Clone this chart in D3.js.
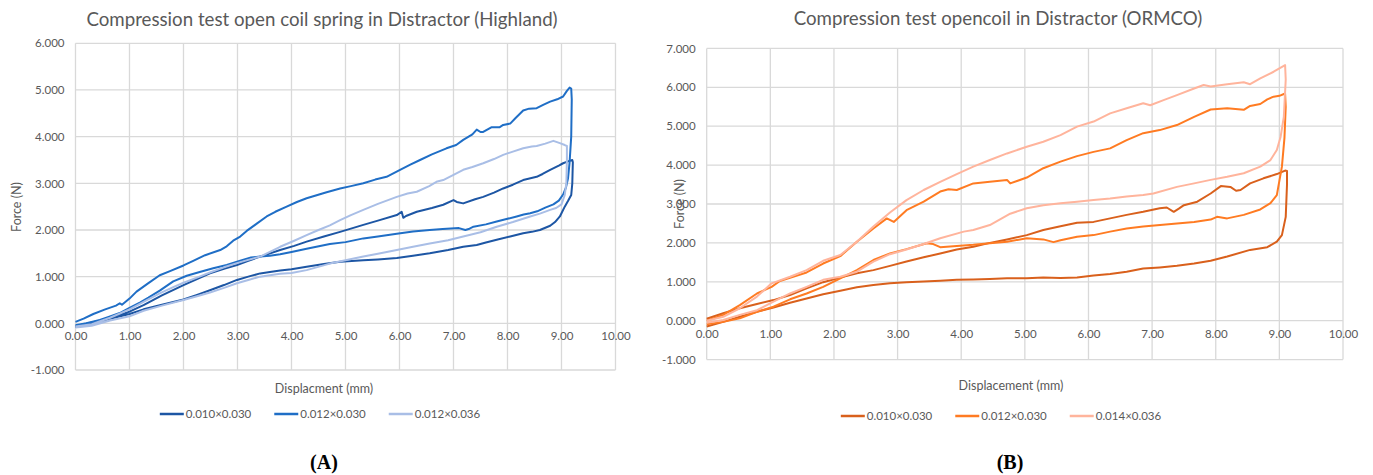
<!DOCTYPE html>
<html>
<head>
<meta charset="utf-8">
<script src="https://cdn.jsdelivr.net/npm/d3@7"></script>
<style>
  html, body { margin: 0; padding: 0; background: #fff; }
  svg { display: block; }
  text { font-family: Lato, "Open Sans", sans-serif; fill: #595959; }
</style>
</head>
<body>
<svg id="fig" width="1373" height="475"></svg>
<script>
// ---------- shared axis definitions ----------
const xTickValues = [0, 1, 2, 3, 4, 5, 6, 7, 8, 9, 10];
const xTickLabels = ["0.00", "1.00", "2.00", "3.00", "4.00", "5.00", "6.00", "7.00", "8.00", "9.00", "10.00"];

// ---------- panel A: Highland ----------
const highlandTitle = "Compression test open coil spring in Distractor (Highland)";
const highlandXTitle = "Displacment (mm)";
const highlandYTicks = [-1, 0, 1, 2, 3, 4, 5, 6];
const highlandYLabels = ["-1.000", "0.000", "1.000", "2.000", "3.000", "4.000", "5.000", "6.000"];
const highlandSeries = ["0.010×0.030", "0.012×0.030", "0.012×0.036"];

// [displacement mm, force N] — loading branch, then return branch
const hl010Up = [[0,-0.06],[0.3,0.02],[0.64,0.11],[1.0,0.25],[1.26,0.39],[1.6,0.6],[2.0,0.82],[2.25,0.95],[2.49,1.07],[2.75,1.17],[2.99,1.25],[3.2,1.34],[3.42,1.43],[3.79,1.57],[4.05,1.66],[4.28,1.75],[4.6,1.86],[4.9,1.96],[5.1,2.03],[5.33,2.11],[5.6,2.2],[5.95,2.32],[6.04,2.39],[6.07,2.26],[6.12,2.3],[6.32,2.39],[6.6,2.47],[6.81,2.54],[7.0,2.64],[7.06,2.6],[7.18,2.57],[7.4,2.66],[7.55,2.71],[7.75,2.8],[7.92,2.89],[8.1,2.97],[8.29,3.07],[8.54,3.14],[8.65,3.2],[8.79,3.29],[8.95,3.38],[9.03,3.43],[9.12,3.47],[9.2,3.5]];
const hl010Down = [[9.21,3.45],[9.2,3.0],[9.18,2.75],[9.12,2.62],[9.06,2.5],[8.97,2.29],[8.88,2.17],[8.79,2.09],[8.6,2.0],[8.45,1.96],[8.29,1.93],[8.05,1.86],[7.8,1.79],[7.6,1.73],[7.43,1.68],[7.18,1.64],[6.9,1.57],[6.56,1.5],[6.25,1.45],[5.95,1.4],[5.6,1.37],[5.33,1.35],[4.9,1.32],[4.6,1.27],[4.28,1.21],[4.0,1.16],[3.79,1.13],[3.6,1.1],[3.42,1.07],[3.2,1.0],[2.99,0.93],[2.75,0.82],[2.49,0.71],[2.25,0.61],[2.0,0.51],[1.6,0.4],[1.26,0.3],[1.0,0.2],[0.64,0.1],[0.3,-0.02],[0,-0.08]];
const hl012Up = [[0,0.03],[0.15,0.1],[0.33,0.2],[0.55,0.3],[0.75,0.38],[0.82,0.43],[0.86,0.4],[1.0,0.53],[1.13,0.68],[1.35,0.86],[1.56,1.03],[1.75,1.12],[2.0,1.24],[2.18,1.34],[2.4,1.46],[2.68,1.57],[2.8,1.65],[2.92,1.77],[3.05,1.86],[3.17,1.98],[3.35,2.13],[3.54,2.29],[3.7,2.39],[3.91,2.5],[4.1,2.6],[4.28,2.68],[4.45,2.74],[4.65,2.81],[4.9,2.89],[5.1,2.94],[5.33,3.0],[5.55,3.08],[5.76,3.14],[6.01,3.29],[6.2,3.4],[6.38,3.5],[6.6,3.62],[6.87,3.75],[7.05,3.82],[7.18,3.93],[7.35,4.05],[7.43,4.15],[7.5,4.1],[7.55,4.1],[7.7,4.2],[7.85,4.2],[7.92,4.25],[8.05,4.28],[8.15,4.4],[8.29,4.56],[8.4,4.6],[8.54,4.61],[8.66,4.68],[8.79,4.75],[8.92,4.8],[9.03,4.86],[9.1,4.98],[9.15,5.05],[9.18,5.03]];
const hl012Down = [[9.19,4.8],[9.18,4.0],[9.15,3.45],[9.12,3.1],[9.08,2.9],[9.03,2.76],[8.95,2.63],[8.85,2.55],[8.7,2.48],[8.55,2.4],[8.42,2.36],[8.3,2.33],[8.17,2.29],[8.0,2.24],[7.8,2.18],[7.6,2.12],[7.37,2.07],[7.28,2.02],[7.22,2.0],[7.1,2.04],[6.8,2.02],[6.56,2.0],[6.25,1.97],[5.95,1.92],[5.6,1.86],[5.33,1.82],[5.0,1.74],[4.71,1.7],[4.28,1.6],[4.0,1.53],[3.79,1.48],[3.6,1.45],[3.42,1.43],[3.25,1.41],[3.05,1.34],[2.8,1.25],[2.55,1.18],[2.3,1.1],[2.06,1.02],[1.81,0.9],[1.56,0.7],[1.35,0.55],[1.2,0.45],[1.0,0.33],[0.82,0.22],[0.6,0.13],[0.45,0.07],[0.2,0.0],[0,-0.04]];
const hl036Up = [[0,-0.07],[0.3,-0.02],[0.64,0.12],[1.0,0.3],[1.26,0.46],[1.56,0.64],[1.8,0.77],[2.0,0.87],[2.25,0.98],[2.49,1.09],[2.75,1.2],[2.99,1.29],[3.2,1.36],[3.42,1.43],[3.6,1.53],[3.79,1.64],[4.05,1.77],[4.28,1.89],[4.5,2.0],[4.71,2.1],[4.9,2.21],[5.1,2.32],[5.33,2.43],[5.6,2.56],[5.95,2.71],[6.15,2.78],[6.32,2.82],[6.55,2.94],[6.7,3.04],[6.81,3.07],[7.0,3.18],[7.18,3.29],[7.35,3.35],[7.55,3.43],[7.75,3.52],[7.92,3.61],[8.1,3.68],[8.29,3.75],[8.45,3.79],[8.54,3.8],[8.7,3.85],[8.85,3.91],[8.97,3.86],[9.06,3.82],[9.1,3.8]];
const hl036Down = [[9.1,3.5],[9.09,3.0],[9.06,2.75],[9.0,2.55],[8.9,2.47],[8.79,2.43],[8.6,2.35],[8.42,2.29],[8.1,2.17],[7.8,2.07],[7.5,1.95],[7.18,1.86],[6.9,1.78],[6.56,1.71],[6.25,1.64],[5.95,1.57],[5.6,1.49],[5.33,1.43],[5.0,1.35],[4.71,1.28],[4.28,1.14],[4.0,1.08],[3.79,1.06],[3.6,1.03],[3.42,1.0],[3.2,0.93],[2.99,0.86],[2.75,0.76],[2.49,0.66],[2.25,0.58],[2.0,0.5],[1.6,0.38],[1.26,0.27],[1.0,0.15],[0.64,0.06],[0.3,-0.05],[0,-0.09]];

// ---------- panel B: ORMCO ----------
const ormcoTitle = "Compression test opencoil in Distractor (ORMCO)";
const ormcoXTitle = "Displacement (mm)";
const ormcoYTicks = [-1, 0, 1, 2, 3, 4, 5, 6, 7];
const ormcoYLabels = ["-1.000", "0.000", "1.000", "2.000", "3.000", "4.000", "5.000", "6.000", "7.000"];
const ormcoSeries = ["0.010×0.030", "0.012×0.030", "0.014×0.036"];

const or010Up = [[0,0.05],[0.26,0.19],[0.52,0.32],[0.79,0.43],[1.05,0.53],[1.31,0.66],[1.57,0.83],[1.83,0.99],[2.1,1.11],[2.36,1.22],[2.62,1.3],[2.88,1.41],[3.14,1.52],[3.41,1.63],[3.67,1.73],[3.93,1.83],[4.19,1.9],[4.45,2.0],[4.72,2.09],[5.03,2.2],[5.29,2.33],[5.56,2.43],[5.82,2.52],[6.08,2.54],[6.34,2.63],[6.6,2.72],[6.86,2.8],[7.12,2.89],[7.23,2.91],[7.34,2.8],[7.42,2.88],[7.5,2.97],[7.71,3.06],[7.92,3.27],[8.08,3.46],[8.23,3.44],[8.32,3.34],[8.39,3.36],[8.54,3.53],[8.75,3.66],[8.96,3.77],[9.09,3.86],[9.12,3.85]];
const or010Down = [[9.12,3.5],[9.1,2.67],[9.04,2.2],[8.96,2.03],[8.81,1.89],[8.54,1.82],[8.18,1.65],[7.92,1.54],[7.66,1.47],[7.39,1.41],[7.12,1.37],[6.86,1.34],[6.6,1.26],[6.34,1.2],[6.08,1.16],[5.82,1.11],[5.56,1.1],[5.29,1.11],[5.03,1.09],[4.72,1.09],[4.45,1.07],[4.19,1.06],[3.93,1.05],[3.67,1.03],[3.41,1.01],[3.14,0.99],[2.88,0.96],[2.62,0.92],[2.36,0.86],[2.1,0.77],[1.83,0.68],[1.57,0.57],[1.31,0.46],[1.05,0.34],[0.79,0.23],[0.52,0.1],[0.26,-0.03],[0,-0.15]];
const or012Up = [[0,0],[0.26,0.15],[0.52,0.4],[0.79,0.7],[1.02,0.87],[1.15,1.02],[1.31,1.1],[1.57,1.24],[1.83,1.47],[2.1,1.66],[2.36,2.03],[2.62,2.37],[2.83,2.63],[2.94,2.54],[3.14,2.84],[3.41,3.06],[3.67,3.32],[3.8,3.38],[3.93,3.36],[4.19,3.53],[4.45,3.57],[4.72,3.62],[4.77,3.53],[5.03,3.68],[5.29,3.92],[5.56,4.09],[5.82,4.23],[6.08,4.34],[6.34,4.43],[6.6,4.64],[6.86,4.82],[7.12,4.9],[7.39,5.03],[7.66,5.24],[7.92,5.43],[8.18,5.46],[8.44,5.42],[8.54,5.52],[8.7,5.57],[8.81,5.69],[8.91,5.76],[9.0,5.78],[9.09,5.84]];
const or012Down = [[9.1,5.5],[9.08,4.7],[9.04,3.96],[8.96,3.23],[8.86,3.02],[8.7,2.86],[8.44,2.72],[8.18,2.63],[8.02,2.67],[7.92,2.6],[7.66,2.54],[7.39,2.5],[6.86,2.42],[6.6,2.37],[6.34,2.29],[6.08,2.2],[5.82,2.16],[5.56,2.07],[5.45,2.02],[5.29,2.09],[5.03,2.12],[4.72,2.03],[4.45,1.99],[4.19,1.95],[3.93,1.92],[3.67,1.89],[3.56,1.97],[3.46,1.99],[3.14,1.84],[2.88,1.73],[2.62,1.56],[2.36,1.3],[2.1,1.09],[1.83,0.87],[1.57,0.7],[1.31,0.55],[1.05,0.36],[0.79,0.23],[0.52,0.06],[0.26,-0.03],[0,-0.09]];
const or036Up = [[0,0],[0.26,0.1],[0.52,0.32],[0.79,0.62],[1.02,0.96],[1.31,1.13],[1.57,1.3],[1.83,1.54],[2.1,1.69],[2.36,2.03],[2.62,2.42],[2.88,2.78],[3.14,3.1],[3.41,3.36],[3.67,3.57],[3.93,3.77],[4.19,3.96],[4.45,4.13],[4.72,4.3],[5.03,4.47],[5.29,4.6],[5.56,4.77],[5.82,4.99],[6.08,5.12],[6.34,5.33],[6.6,5.46],[6.86,5.59],[6.97,5.54],[7.18,5.67],[7.39,5.8],[7.66,5.97],[7.81,6.06],[7.92,6.02],[8.18,6.08],[8.44,6.13],[8.54,6.08],[8.7,6.23],[8.91,6.4],[9.09,6.57]];
const or036Down = [[9.1,6.2],[9.07,5.24],[9.02,4.73],[8.96,4.39],[8.86,4.13],[8.7,3.96],[8.44,3.79],[8.18,3.7],[7.92,3.62],[7.66,3.53],[7.39,3.44],[7.02,3.27],[6.86,3.23],[6.6,3.19],[6.34,3.14],[6.08,3.1],[5.82,3.06],[5.56,3.02],[5.29,2.97],[5.03,2.89],[4.77,2.75],[4.45,2.46],[4.19,2.33],[4.04,2.29],[3.67,2.12],[3.41,1.97],[3.14,1.83],[2.88,1.71],[2.62,1.52],[2.36,1.26],[2.1,1.13],[1.83,1.05],[1.57,0.87],[1.31,0.7],[1.05,0.49],[0.79,0.27],[0.52,0.15],[0.26,0.02],[0,-0.05]];

const blues = ["#1d56a4", "#1f6ec6", "#a9bee6"];
const oranges = ["#d9601c", "#ff7b22", "#ffb49c"];

const svg = d3.select("#fig");

function drawPanel(cfg) {
  const g = svg.append("g");
  const x = d3.scaleLinear().domain([0, 10]).range(cfg.xRange);
  const y = d3.scaleLinear().domain(cfg.yDomain).range(cfg.yRange);

  // gridlines
  g.append("g").selectAll("line.v").data(xTickValues).join("line")
    .attr("x1", d => x(d)).attr("x2", d => x(d))
    .attr("y1", y(cfg.yDomain[0])).attr("y2", y(cfg.yDomain[1]))
    .attr("stroke", "#d9d9d9").attr("stroke-width", 1.3);
  g.append("g").selectAll("line.h").data(cfg.yTicks).join("line")
    .attr("x1", x(0)).attr("x2", x(10))
    .attr("y1", d => y(d)).attr("y2", d => y(d))
    .attr("stroke", "#d9d9d9").attr("stroke-width", 1.3);

  // y axis labels
  const yAxis = d3.axisLeft(y).tickValues(cfg.yTicks)
    .tickFormat((d, i) => cfg.yLabels[i]).tickSize(0).tickPadding(11);
  const ya = g.append("g").attr("transform", `translate(${x(0)},0)`).call(yAxis);
  ya.select(".domain").remove();
  ya.selectAll("text").style("font-size", "11.5px").style("fill", "#595959")
    .style("font-family", "Lato, sans-serif");

  // x axis labels, crossing at zero force
  const xAxis = d3.axisBottom(x).tickValues(xTickValues)
    .tickFormat((d, i) => xTickLabels[i]).tickSize(0).tickPadding(9);
  const xa = g.append("g").attr("transform", `translate(0,${y(0)})`).call(xAxis);
  xa.select(".domain").remove();
  xa.selectAll("text").style("font-size", "11.5px").style("fill", "#595959")
    .style("font-family", "Lato, sans-serif");

  // series loops
  const line = d3.line().x(d => x(d[0])).y(d => y(d[1]));
  cfg.loops.forEach((loop, i) => {
    g.append("path").datum(loop[0].concat(loop[1]))
      .attr("d", line).attr("fill", "none")
      .attr("stroke", cfg.colors[i]).attr("stroke-width", 2)
      .attr("stroke-linejoin", "round");
  });

  // titles
  g.append("text").attr("x", cfg.titleX).attr("y", cfg.titleY)
    .attr("text-anchor", "middle").style("font-size", "18.7px").text(cfg.title);
  g.append("text").attr("x", cfg.xTitlePos[0]).attr("y", cfg.xTitlePos[1])
    .attr("text-anchor", "middle").style("font-size", "12.5px").text(cfg.xTitle);
  g.append("text")
    .attr("transform", `translate(${cfg.yTitlePos[0]},${cfg.yTitlePos[1]}) rotate(-90)`)
    .attr("text-anchor", "middle").style("font-size", "12.5px").text("Force (N)");

  // legend
  const lg = g.append("g");
  const items = cfg.series.map((s, i) => {
    const it = lg.append("g");
    it.append("line").attr("x1", 0).attr("x2", 24).attr("y1", 0).attr("y2", 0)
      .attr("stroke", cfg.colors[i]).attr("stroke-width", 2.5);
    const t = it.append("text").attr("x", 26).attr("y", 4)
      .style("font-size", "11.5px").text(s);
    return { g: it, w: 26 + t.node().getComputedTextLength() };
  });
  const gap = 23;
  const total = d3.sum(items, d => d.w) + gap * (items.length - 1);
  let cx = cfg.legendPos[0] - total / 2;
  items.forEach(d => {
    d.g.attr("transform", `translate(${cx},${cfg.legendPos[1]})`);
    cx += d.w + gap;
  });

  // panel letter
  const lt = g.append("text").attr("x", cfg.letterPos[0]).attr("y", cfg.letterPos[1])
    .attr("text-anchor", "middle")
    .style("font-family", "'Liberation Serif', 'DejaVu Serif', serif")
    .style("font-size", "20px").style("font-weight", "bold").style("fill", "#000");
  lt.append("tspan").text("(");
  lt.append("tspan").text(cfg.letter);
  lt.append("tspan").text(")");
}

drawPanel({
  xRange: [75.5, 615.5], yDomain: [-1, 6], yRange: [370, 43.3],
  yTicks: highlandYTicks, yLabels: highlandYLabels,
  loops: [[hl010Up, hl010Down], [hl012Up, hl012Down], [hl036Up, hl036Down]],
  colors: blues, series: highlandSeries,
  title: highlandTitle, titleX: 322, titleY: 26,
  xTitlePos: [324, 393], xTitle: highlandXTitle,
  yTitlePos: [21, 207],
  legendPos: [320, 414],
  letter: "A", letterPos: [324, 469]
});

drawPanel({
  xRange: [706.7, 1343], yDomain: [-1, 7], yRange: [359.6, 48.4],
  yTicks: ormcoYTicks, yLabels: ormcoYLabels,
  loops: [[or010Up, or010Down], [or012Up, or012Down], [or036Up, or036Down]],
  colors: oranges, series: ormcoSeries,
  title: ormcoTitle, titleX: 998, titleY: 25,
  xTitle: ormcoXTitle, xTitlePos: [1011, 390],
  yTitlePos: [684, 204],
  legendPos: [1001, 416],
  letter: "B", letterPos: [1010, 469]
});
</script>
</body>
</html>
